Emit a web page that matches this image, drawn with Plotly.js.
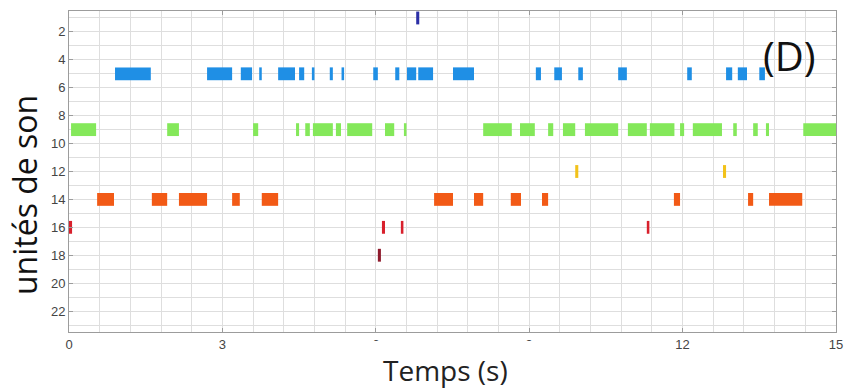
<!DOCTYPE html>
<html>
<head>
<meta charset="utf-8">
<script src="https://cdn.plot.ly/plotly-3.0.1.min.js"></script>
<style>
  html, body { margin: 0; padding: 0; background: #ffffff; }
  #chart { width: 844px; height: 389px; }
</style>
</head>
<body>
<div id="chart"></div>
<script>
// Activity periods of each sound unit: [start, end] in seconds
const unit1 = [[6.79, 6.85]];
const unit5 = [
  [0.90, 1.60], [2.70, 3.19], [3.36, 3.58], [3.72, 3.77], [4.09, 4.42],
  [4.50, 4.60], [4.75, 4.80], [5.10, 5.16], [5.33, 5.38], [5.95, 6.04],
  [6.38, 6.46], [6.61, 6.79], [6.83, 7.12], [7.51, 7.92], [9.13, 9.23],
  [9.49, 9.64], [9.96, 10.05], [10.74, 10.91], [12.09, 12.18], [12.85, 12.97],
  [13.08, 13.26], [13.50, 13.61]
];
const unit9 = [
  [0.04, 0.53], [1.92, 2.15], [3.60, 3.70], [4.44, 4.50], [4.62, 4.71],
  [4.77, 5.16], [5.22, 5.32], [5.44, 5.93], [6.18, 6.36], [6.55, 6.60],
  [8.10, 8.66], [8.82, 9.11], [9.37, 9.47], [9.66, 9.90], [10.09, 10.74],
  [10.93, 11.30], [11.36, 11.84], [11.95, 12.03], [12.20, 12.77], [12.99, 13.06],
  [13.38, 13.47], [13.63, 13.69], [14.36, 15.00]
];
const unit12 = [[9.90, 9.96], [12.79, 12.85]];
const unit14 = [
  [0.55, 0.88], [1.62, 1.92], [2.15, 2.70], [3.19, 3.34], [3.77, 4.09],
  [7.14, 7.51], [7.92, 8.10], [8.64, 8.84], [9.25, 9.37], [11.83, 11.95],
  [13.28, 13.38], [13.69, 14.34]
];
const unit16 = [[0.00, 0.06], [6.12, 6.18], [6.49, 6.54], [11.30, 11.35]];
const unit18 = [[6.04, 6.10]];

const unitIds    = [1, 5, 9, 12, 14, 16, 18];
const unitColors = ['#2b2fa6', '#1f8fe5', '#84e85a', '#f2c21a', '#f25a16', '#d8202c', '#8e1a2c'];
const unitSpans  = [unit1, unit5, unit9, unit12, unit14, unit16, unit18];

const xTicks = [0, 3, 6, 9, 12, 15];
const yTicks = [2, 4, 6, 8, 10, 12, 14, 16, 18, 20, 22];

// One horizontal bar trace per unit: base = onset, length = duration
const traces = unitSpans.map((spans, i) => ({
  type: 'bar',
  orientation: 'h',
  y: spans.map(() => unitIds[i]),
  base: spans.map(s => s[0]),
  x: spans.map(s => s[1] - s[0]),
  width: 0.92,
  marker: { color: unitColors[i], line: { width: 0 } },
  hoverinfo: 'skip',
  showlegend: false
}));

const gridCol = '#dedede';
const frameCol = '#9c9c9c';

const layout = {
  width: 844,
  height: 389,
  margin: { l: 69, r: 8, t: 11, b: 57 },
  paper_bgcolor: '#ffffff',
  plot_bgcolor: '#ffffff',
  barmode: 'overlay',
  showlegend: false,
  font: { family: 'Liberation Sans, Arial, sans-serif', size: 13, color: '#444444' },
  xaxis: {
    range: [0, 15],
    tickvals: xTicks,
    ticktext: xTicks.map(String),
    ticks: 'inside',
    ticklen: 4,
    tickcolor: frameCol,
    showline: true,
    linecolor: frameCol,
    linewidth: 1,
    mirror: 'ticks',
    showgrid: true,
    gridcolor: gridCol,
    gridwidth: 1,
    minor: { dtick: 0.6, showgrid: true, gridcolor: gridCol, gridwidth: 1 },
    zeroline: false,
    tickfont: { size: 13, color: '#444444' },
    fixedrange: true
  },
  yaxis: {
    range: [23.5, 0.5],
    tickvals: yTicks,
    ticktext: yTicks.map(String),
    ticks: 'inside',
    ticklen: 4,
    tickcolor: frameCol,
    showline: true,
    linecolor: frameCol,
    linewidth: 1,
    mirror: 'ticks',
    showgrid: true,
    gridcolor: gridCol,
    gridwidth: 1,
    minor: { dtick: 1, showgrid: true, gridcolor: gridCol, gridwidth: 1 },
    zeroline: false,
    tickfont: { size: 13, color: '#444444' },
    fixedrange: true
  },
  shapes: [
    // white label box behind the time-axis title
    {
      type: 'rect', layer: 'above',
      xref: 'paper', yref: 'paper',
      x0: (371 - 69) / 767, x1: (540 - 69) / 767,
      y0: (332 - 389) / 321, y1: (332 - 341) / 321,
      fillcolor: '#ffffff', line: { width: 0 }
    }
  ],
  annotations: [
    {
      text: 'Temps (s)',
      xref: 'paper', yref: 'paper',
      x: (445 - 69) / 767, y: (332 - 370) / 321,
      xanchor: 'center', yanchor: 'middle',
      showarrow: false,
      font: { family: 'Open Sans, sans-serif', size: 28, color: '#222222' }
    },
    {
      text: 'unités de son',
      xref: 'paper', yref: 'paper',
      x: (24 - 69) / 767, y: (332 - 195) / 321,
      xanchor: 'center', yanchor: 'middle',
      textangle: -90,
      showarrow: false,
      font: { family: 'Open Sans, sans-serif', size: 32, color: '#111111' }
    },
    {
      text: '(D)',
      xref: 'paper', yref: 'paper',
      x: (789 - 69) / 767, y: (332 - 55) / 321,
      xanchor: 'center', yanchor: 'middle',
      showarrow: false,
      font: { family: 'Open Sans, sans-serif', size: 40, color: '#111111' }
    }
  ]
};

Plotly.newPlot('chart', traces, layout, { staticPlot: true, displayModeBar: false });
</script>
</body>
</html>
